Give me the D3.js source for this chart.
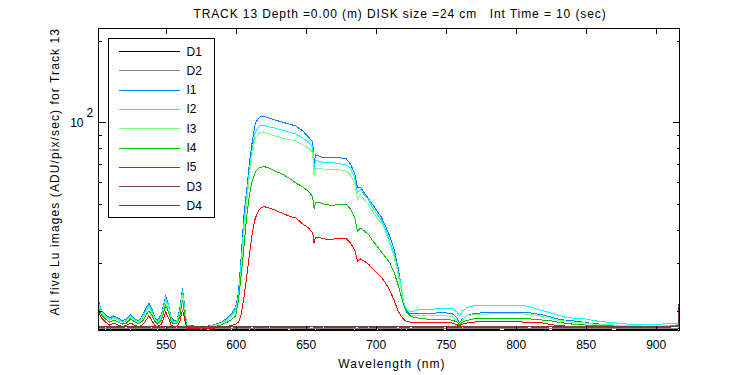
<!DOCTYPE html>
<html><head><meta charset="utf-8">
<script src="https://cdn.jsdelivr.net/npm/d3@7"></script>
<style>
body{margin:0;background:#fff}
svg text{font-family:"Liberation Sans",Arial,Helvetica,sans-serif;fill:#000}
</style>
</head><body>
<svg id="c" width="750" height="375"></svg>
<script>
const titleText = "TRACK 13 Depth =0.00 (m) DISK size =24 cm   Int Time = 10 (sec)";
const xLabel = "Wavelength (nm)";
const yLabel = "All five Lu images (ADU/pix/sec) for Track 13";
const xTicks = [550,600,650,700,750,800,850,900];
const yTicks = [20,30,40,50,60,70,80,90,100,200];
const yMajor = [100];
const seriesNames = ["D1","D2","I1","I2","I3","I4","I5","D3","D4"];
const seriesColors = ["#000000","#888888","#0080ff","#00ffff","#80ff80","#00c000","#ff0000","#804040","#7a3a3a"];

const wavelengths = [502,504,507,510,513,516,519,522,525,528,
531,534,536,538,540,542,544,547,550,552,
554,556,558,560,562,563,565,570,575,580,
585,590,594,597,600,602,604,606,608,610,
612,614,617,620,624,628,633,638,643,648,
652,655,656,657,659,663,667,671,675,679,
682,685,687,689,692,695,698,701,704,707,
710,713,716,718,720,722,725,730,735,740,
745,750,755,758,760,762,765,770,780,790,
800,805,810,815,820,825,830,835,840,845,
850,855,860,870,880,890,900,905,910,914,
916,917];

const D1 = [17.05,17.1,17.0,17.08,17.03,17.1,17.02,17.06,17.0,17.09,
17.04,17.1,17.01,17.07,17.03,17.1,17.0,17.06,17.04,17.09,
17.02,17.08,17.0,17.1,17.05,17.02,17.07,17.03,17.1,17.0,
17.06,17.04,17.09,17.01,17.07,17.03,17.1,17.02,17.06,17.0,
17.08,17.04,17.1,17.01,17.06,17.03,17.09,17.0,17.07,17.04,
17.1,17.02,17.05,17.0,17.08,17.03,17.1,17.01,17.06,17.04,
17.09,17.0,17.07,17.03,17.1,17.02,17.05,17.0,17.08,17.04,
17.1,17.01,17.06,17.03,17.09,17.0,17.07,17.04,17.1,17.02,
17.05,17.0,17.08,17.03,17.1,17.01,17.06,17.04,17.09,17.0,
17.07,17.03,17.1,17.02,17.05,17.0,17.08,17.04,17.1,17.01,
17.06,17.03,17.09,17.0,17.07,17.04,17.1,17.02,17.05,17.1,
17.15,17.3];

const D2 = [17.22,17.27,17.18,17.25,17.2,17.28,17.17,17.24,17.19,17.26,
17.21,17.28,17.18,17.23,17.2,17.27,17.17,17.25,17.22,17.26,
17.19,17.24,17.17,17.28,17.21,17.18,17.25,17.2,17.27,17.17,
17.23,17.21,17.26,17.18,17.24,17.2,17.28,17.19,17.23,17.17,
17.25,17.21,17.27,17.18,17.23,17.2,17.26,17.17,17.24,17.21,
17.28,17.19,17.22,17.17,17.25,17.2,17.27,17.18,17.23,17.21,
17.26,17.17,17.24,17.2,17.28,17.19,17.22,17.17,17.25,17.21,
17.27,17.18,17.23,17.2,17.26,17.17,17.24,17.21,17.28,17.19,
17.22,17.17,17.25,17.2,17.27,17.18,17.23,17.21,17.26,17.17,
17.24,17.2,17.28,17.19,17.22,17.17,17.25,17.21,17.27,17.18,
17.23,17.2,17.26,17.17,17.24,17.21,17.28,17.19,17.22,17.25,
17.3,17.8];

const I1 = [21.8,20.2,19.35,18.85,19.2,18.85,18.4,18.7,19.35,18.7,
18.4,19.5,20.5,21.4,20.5,19.0,18.4,19.5,22.7,21.2,
18.85,18.4,18.5,20.2,24.3,22.0,17.75,17.6,17.5,17.6,
17.8,18.2,18.85,19.5,20.7,23.5,32.3,46.1,57.1,72.5,
86.0,99.4,104.6,105.5,103.7,102.0,100.3,98.6,96.9,92.8,
88.2,84.5,70.7,75.7,75.1,73.8,73.8,73.8,73.8,73.2,
70.1,64.4,57.6,57.6,54.7,52.0,49.4,46.9,44.6,41.3,
37.9,34.2,28.9,25.0,21.4,20.0,19.5,19.5,19.6,19.6,
19.7,19.7,19.5,18.85,18.05,18.7,19.2,19.6,19.75,19.75,
19.75,19.75,19.7,19.5,19.3,19.0,18.7,18.5,18.4,18.3,
18.1,18.0,17.9,17.75,17.7,17.6,17.6,17.6,17.7,17.75,
17.9,20.2];

const I2 = [21.4,20.0,19.2,18.7,19.0,18.7,18.2,18.5,19.2,18.5,
18.2,19.35,20.2,21.05,20.2,18.85,18.2,19.2,22.35,20.9,
18.7,18.2,18.4,19.85,23.7,21.6,17.7,17.5,17.45,17.5,
17.75,18.1,18.7,19.35,20.35,22.7,30.4,42.7,53.8,67.7,
80.3,92.1,96.9,97.7,96.1,95.3,93.6,92.1,90.5,87.5,
84.5,80.9,66.6,72.5,71.9,70.7,70.7,70.7,70.1,69.5,
67.7,62.2,55.2,56.2,53.8,51.6,48.1,45.6,43.5,40.3,
36.3,32.8,28.1,25.0,21.6,20.2,19.85,20.2,20.2,20.3,
20.45,20.45,20.35,19.85,19.2,20.0,20.6,20.9,20.95,20.95,
21.05,20.95,20.8,20.35,20.0,19.7,19.35,19.0,18.85,18.8,
18.7,18.45,18.3,18.1,17.9,17.8,17.8,17.9,18.0,18.0,
18.05,20.0];

const I3 = [21.05,19.7,19.0,18.5,18.85,18.5,18.05,18.4,19.0,18.4,
18.05,19.0,19.85,20.7,19.85,18.7,18.05,18.85,21.8,20.5,
18.5,18.05,18.2,19.5,23.1,21.05,17.6,17.45,17.4,17.45,
17.7,18.05,18.5,19.1,20.0,22.0,28.4,39.9,51.6,65.5,
77.6,87.5,91.3,92.1,90.5,89.0,87.5,86.4,85.2,82.4,
80.3,77.6,62.8,67.7,67.7,67.1,66.9,66.9,66.6,66.0,
63.8,59.6,51.6,53.8,51.6,49.4,46.5,44.2,42.4,39.5,
35.4,32.0,27.4,24.3,21.05,19.7,19.3,19.2,19.2,19.2,
19.2,19.2,19.0,18.5,17.8,18.5,19.2,19.4,19.5,19.6,
19.6,19.5,19.4,19.3,19.0,18.8,18.5,18.4,18.2,18.1,
18.05,17.9,17.8,17.75,17.7,17.6,17.6,17.6,17.7,17.75,
17.8,20.0];

const I4 = [20.5,19.35,18.7,18.2,18.5,18.2,17.9,18.05,18.7,18.2,
17.9,18.5,19.35,20.0,19.35,18.4,17.9,18.5,21.05,19.85,
18.2,17.9,18.0,19.0,22.0,20.35,17.5,17.4,17.3,17.4,
17.5,17.8,18.2,18.6,19.2,22.0,27.2,35.1,45.4,54.7,
61.1,65.5,68.0,68.6,67.7,66.0,64.4,62.2,59.6,57.6,
55.6,52.9,47.7,50.6,50.6,49.8,49.4,49.4,49.6,49.8,
47.7,44.6,39.5,40.6,39.6,38.3,36.3,34.8,33.1,31.7,
30.2,27.9,25.0,22.9,21.05,19.85,19.1,18.85,18.7,18.6,
18.6,18.6,18.5,18.2,17.75,18.2,18.45,18.7,18.8,18.8,
18.8,18.8,18.7,18.6,18.5,18.4,18.2,18.05,17.9,17.8,
17.75,17.7,17.7,17.6,17.6,17.5,17.5,17.5,17.6,17.7,
17.75,20.2];

const I5 = [20.0,18.85,18.2,17.75,18.05,17.75,17.5,17.7,18.05,17.7,
17.5,17.9,18.5,19.2,18.5,17.75,17.5,17.9,19.85,18.85,
17.7,17.45,17.5,18.2,20.2,19.2,17.3,17.2,17.15,17.2,
17.3,17.4,17.5,17.7,17.9,18.2,19.5,22.7,27.2,33.1,
39.3,44.2,47.7,48.8,48.1,47.3,46.1,45.0,44.2,42.0,
40.6,38.9,35.7,37.6,37.6,37.0,36.8,37.0,37.1,37.1,
35.7,33.7,30.6,31.2,30.6,29.8,28.6,27.7,26.7,25.4,
23.9,22.0,20.0,19.2,18.6,18.3,18.2,18.1,18.1,18.1,
18.1,18.1,18.05,17.8,17.6,17.9,18.05,18.2,18.3,18.3,
18.3,18.2,18.2,18.1,18.05,17.8,17.7,17.6,17.6,17.5,
17.5,17.5,17.45,17.45,17.45,17.45,17.45,17.45,17.45,17.5,
17.6,22.0];

const D3 = [17.42,17.38,17.46,17.4,17.45,17.37,17.43,17.47,17.39,17.44,
17.41,17.36,17.45,17.4,17.47,17.38,17.43,17.41,17.46,17.37,
17.44,17.4,17.47,17.39,17.42,17.36,17.45,17.41,17.38,17.46,
17.4,17.44,17.37,17.47,17.42,17.39,17.45,17.41,17.36,17.44,
17.47,17.4,17.43,17.38,17.46,17.41,17.37,17.45,17.42,17.39,
17.44,17.47,17.4,17.36,17.43,17.46,17.38,17.42,17.45,17.4,
17.37,17.44,17.47,17.41,17.39,17.46,17.42,17.36,17.45,17.4,
17.43,17.38,17.47,17.41,17.44,17.37,17.46,17.42,17.39,17.45,
17.4,17.47,17.36,17.43,17.41,17.46,17.38,17.44,17.42,17.37,
17.45,17.4,17.47,17.39,17.43,17.46,17.41,17.36,17.44,17.42,
17.38,17.45,17.4,17.47,17.43,17.39,17.46,17.41,17.44,17.5,
17.6,23.6];

const D4 = [17.5,17.54,17.47,17.52,17.49,17.55,17.46,17.51,17.53,17.48,
17.55,17.5,17.47,17.53,17.49,17.54,17.46,17.52,17.5,17.55,
17.48,17.53,17.46,17.51,17.54,17.49,17.52,17.47,17.55,17.5,
17.46,17.53,17.49,17.54,17.51,17.47,17.55,17.5,17.52,17.46,
17.53,17.49,17.54,17.48,17.51,17.55,17.47,17.52,17.5,17.46,
17.54,17.49,17.53,17.47,17.55,17.5,17.52,17.46,17.51,17.54,
17.48,17.53,17.5,17.55,17.47,17.52,17.49,17.54,17.46,17.51,
17.55,17.48,17.53,17.5,17.47,17.54,17.49,17.52,17.46,17.55,
17.5,17.53,17.48,17.51,17.54,17.47,17.52,17.5,17.55,17.46,
17.53,17.49,17.54,17.48,17.51,17.55,17.47,17.52,17.5,17.46,
17.54,17.49,17.53,17.47,17.55,17.5,17.52,17.48,17.51,17.56,
17.65,23.3];

const seriesValues = [D1,D2,I1,I2,I3,I4,I5,D3,D4];

// ---------- layout ----------
const svg = d3.select("#c");
const L = 98.5, R = 679.5, T = 28.5, B = 330.5;
const x = d3.scaleLinear().domain([502, 917]).range([L, R]);
const y = d3.scaleLog().domain([16.94, 222.6]).range([B, T]);

svg.append("rect").attr("width",750).attr("height",375).attr("fill","#fff");

svg.append("clipPath").attr("id","plotclip").append("rect")
  .attr("x",L).attr("y",T).attr("width",R-L+1).attr("height",B-T);

const line = d3.line().x((d,i)=>x(wavelengths[i])).y(d=>y(d));
const gData = svg.append("g").attr("clip-path","url(#plotclip)");
seriesValues.forEach((vals,k)=>{
  gData.append("path").datum(vals).attr("d",line)
    .attr("fill","none").attr("stroke",seriesColors[k]).attr("stroke-width",1)
    .attr("shape-rendering","crispEdges");
});

function styleAxis(g){
  g.select(".domain").remove();
  g.selectAll("line").attr("stroke","#000").attr("shape-rendering","crispEdges");
  g.selectAll("text").attr("font-size",12).attr("font-family",null).attr("fill","#000");
}
svg.append("g").attr("transform",`translate(0,${B})`)
  .call(d3.axisBottom(x).tickValues(xTicks).tickSizeInner(-5).tickSizeOuter(0).tickPadding(10).tickFormat(d3.format("d")))
  .call(styleAxis);
svg.append("g").attr("transform",`translate(0,${T})`)
  .call(d3.axisTop(x).tickValues(xTicks).tickSizeInner(-5).tickSizeOuter(0).tickFormat(""))
  .call(styleAxis);
const gl = svg.append("g").attr("transform",`translate(${L},0)`)
  .call(d3.axisLeft(y).tickValues(yTicks).tickSizeInner(-3).tickSizeOuter(0).tickFormat(""))
  .call(styleAxis);
gl.selectAll(".tick").filter(d=>yMajor.includes(d)).select("line").attr("x2",7);
const gr = svg.append("g").attr("transform",`translate(${R},0)`)
  .call(d3.axisRight(y).tickValues(yTicks).tickSizeInner(-3).tickSizeOuter(0).tickFormat(""))
  .call(styleAxis);
gr.selectAll(".tick").filter(d=>yMajor.includes(d)).select("line").attr("x2",-7);

yMajor.forEach(v=>{
  const e = Math.round(Math.log10(v));
  svg.append("text").attr("x",83.5).attr("y",y(v)+4.3).attr("text-anchor","end").attr("font-size",12).text("10");
  svg.append("text").attr("x",86.5).attr("y",y(v)-5.6).attr("font-size",12).text(String(e));
});

svg.append("rect").attr("x",L).attr("y",T).attr("width",R-L).attr("height",B-T)
  .attr("fill","none").attr("stroke","#000").attr("shape-rendering","crispEdges");

svg.append("text").attr("x",400).attr("y",18).attr("text-anchor","middle")
  .attr("font-size",12).attr("letter-spacing","0.9px").style("white-space","pre").text(titleText);
svg.append("text").attr("x",392).attr("y",368).attr("text-anchor","middle")
  .attr("font-size",12).attr("letter-spacing","1.1px").text(xLabel);
svg.append("text").attr("transform","translate(58.6,171.7) rotate(-90)").attr("text-anchor","middle")
  .attr("font-size",12).attr("letter-spacing","1.1px").text(yLabel);

const lg = svg.append("g");
lg.append("rect").attr("x",108.5).attr("y",38.5).attr("width",106).attr("height",179)
  .attr("fill","#fff").attr("stroke","#000").attr("shape-rendering","crispEdges");
seriesNames.forEach((n,i)=>{
  const yy = 51 + i*19.3;
  lg.append("line").attr("x1",119).attr("x2",180).attr("y1",Math.round(yy)+0.5).attr("y2",Math.round(yy)+0.5)
    .attr("stroke",seriesColors[i]).attr("stroke-width",1).attr("shape-rendering","crispEdges");
  lg.append("text").attr("x",186.5).attr("y",yy+4.5).attr("font-size",12).text(n);
});
</script>
</body></html>
